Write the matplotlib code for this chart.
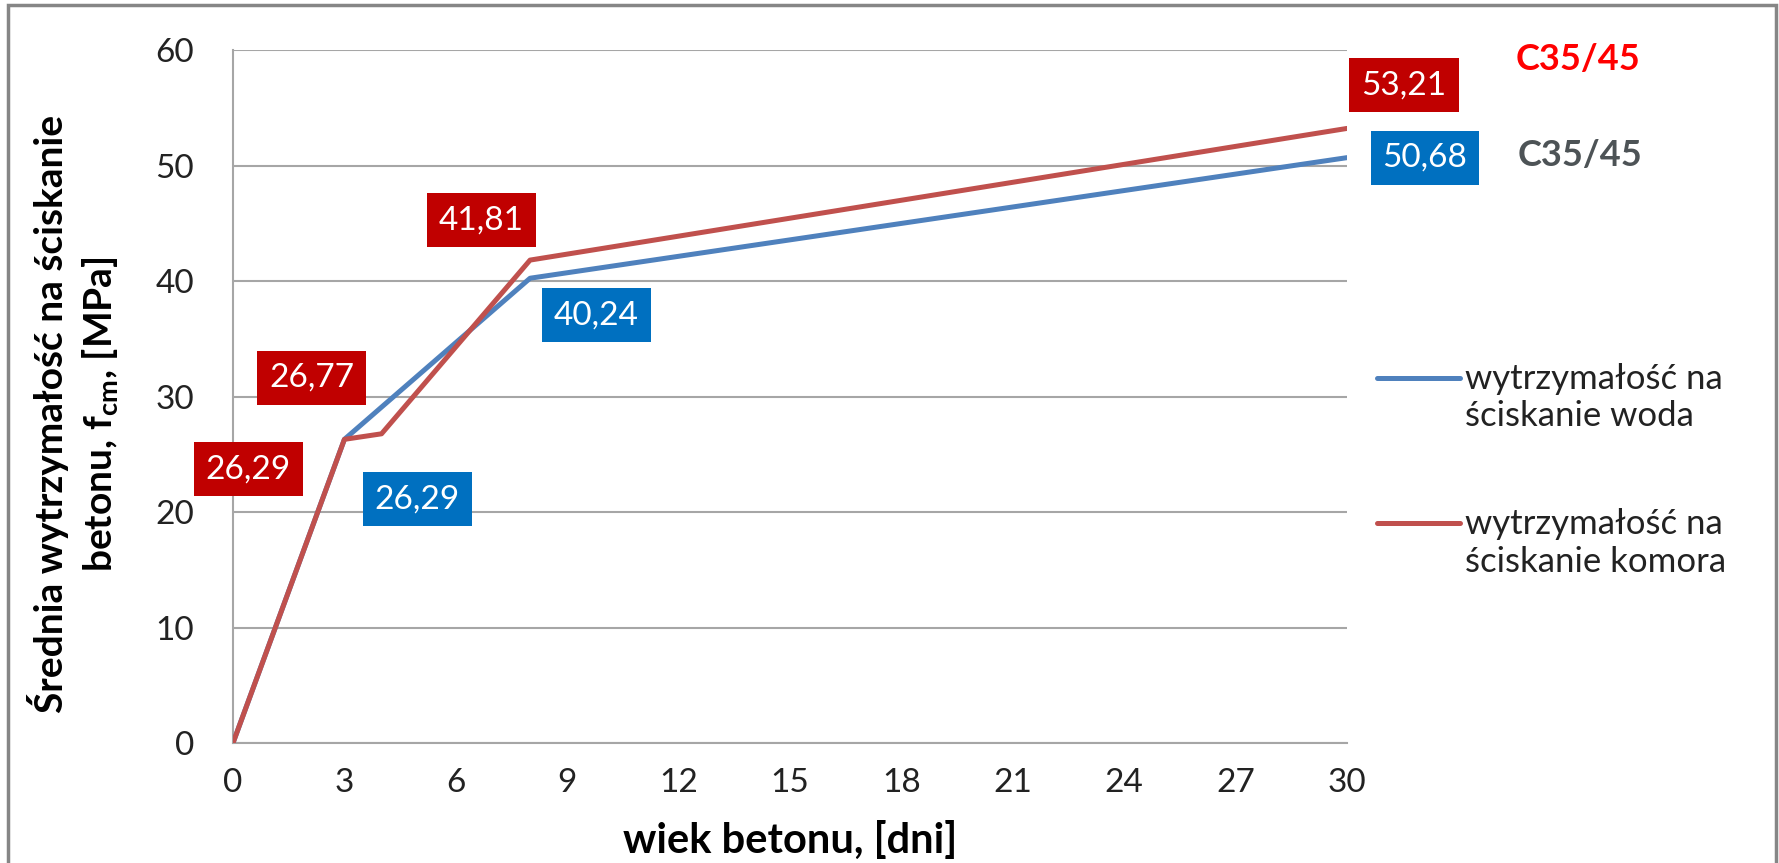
import numpy as np
import matplotlib
matplotlib.use('Agg')
import matplotlib.pyplot as plt
from matplotlib.patches import Rectangle
from matplotlib.legend_handler import HandlerLine2D

plt.rcParams['font.family'] = ['Lato', 'DejaVu Sans']

# wiek betonu [dni]
days_woda = [0, 3, 8, 30]
fcm_woda = [0, 26.29, 40.24, 50.68]
labels_woda = [None, '26,29', '40,24', '50,68']

days_komora = [0, 3, 4, 8, 30]
fcm_komora = [0, 26.29, 26.77, 41.81, 53.21]
labels_komora = [None, '26,29', '26,77', '41,81', '53,21']

x_ticks = [0, 3, 6, 9, 12, 15, 18, 21, 24, 27, 30]
y_ticks = [0, 10, 20, 30, 40, 50, 60]

name_woda = 'wytrzymałość na\nściskanie woda'
name_komora = 'wytrzymałość na\nściskanie komora'

col_woda = '#4F81BD'
col_komora = '#C0504D'
box_woda = '#0070C0'
box_komora = '#C00000'

# label offsets in pixels (dx right, dy up)
off_woda = [None, (73, -60), (66, -37), (78, 0)]
off_komora = [None, (-96, -30), (-70, 56), (-49, 40), (57, 43)]


class FirstLineHandler(HandlerLine2D):
    # legend line next to the first text line, not the middle of the entry
    def create_artists(self, legend, orig_handle, xdescent, ydescent, width, height, fontsize, trans):
        arts = super().create_artists(legend, orig_handle, xdescent, ydescent,
                                      width, height, fontsize, trans)
        for a in arts:
            a.set_ydata(np.asarray(a.get_ydata()) + 0.6 * fontsize)
        return arts


W, H = 1779, 863
fig = plt.figure(figsize=(W / 100, H / 100), dpi=100)
ax = fig.add_axes([233 / W, 1 - 743 / H, (1347 - 233) / W, (743 - 50) / H])

ln_w, = ax.plot(days_woda, fcm_woda, color=col_woda, lw=3.6,
                solid_joinstyle='round', solid_capstyle='round', label=name_woda, zorder=3)
ln_k, = ax.plot(days_komora, fcm_komora, color=col_komora, lw=3.6,
                solid_joinstyle='round', solid_capstyle='round', label=name_komora, zorder=4)

for xs, ys, labs, offs, fc in [(days_woda, fcm_woda, labels_woda, off_woda, box_woda),
                               (days_komora, fcm_komora, labels_komora, off_komora, box_komora)]:
    for x, y, lab, off in zip(xs, ys, labs, offs):
        if lab is None:
            continue
        ax.annotate(lab, (x, y), xytext=off, textcoords='offset pixels',
                    ha='center', va='center', color='white', fontsize=24,
                    bbox=dict(boxstyle='square,pad=0.36', fc=fc, ec='none'),
                    annotation_clip=False, zorder=5)

ax.set_xlim(0, 30)
ax.set_ylim(0, 60)
ax.set_xticks(x_ticks)
ax.set_yticks(y_ticks)
ax.tick_params(length=0, labelsize=24, colors='#222222')
ax.tick_params(axis='x', pad=18)
ax.tick_params(axis='y', pad=28)
ax.grid(axis='y', color='#A6A6A6', lw=1.5)
ax.set_axisbelow(True)
for s in ['top', 'right']:
    ax.spines[s].set_visible(False)
for s in ['left', 'bottom']:
    ax.spines[s].set_color('#A6A6A6')
    ax.spines[s].set_linewidth(1.5)

ax.set_xlabel('wiek betonu, [dni]', fontsize=30, fontweight='bold', va='top')
ax.xaxis.set_label_coords(0.5, (743 - 821) / 693)
ax.set_ylabel('Średnia wytrzymałość na ściskanie\nbetonu, f$_{\\mathregular{cm}}$, [MPa]',
              fontsize=28, fontweight='bold', linespacing=1.35)
ax.yaxis.set_label_coords((121 - 233) / 1114, (743 - 414) / 693)

leg = fig.legend(handles=[ln_w, ln_k], loc='upper left', bbox_to_anchor=(1363 / W, 1 - 349 / H),
                 frameon=False, fontsize=25, handlelength=2.4, handletextpad=0.15,
                 labelspacing=2.2, borderaxespad=0,
                 handler_map={ln_w: FirstLineHandler(), ln_k: FirstLineHandler()})
for t in leg.get_texts():
    t.set_linespacing(1.2)
    t.set_color('#222222')

fig.text(1578 / W, 1 - 60 / H, 'C35/45', color='#FF0000', fontsize=26, fontweight='bold',
         ha='center', va='center')
fig.text(1580 / W, 1 - 155 / H, 'C35/45', color='#4D5356', fontsize=26, fontweight='bold',
         ha='center', va='center')

fig.patches.append(Rectangle((8 / W, -0.02), (1776 - 8) / W, 1.02 - 5 / H,
                             transform=fig.transFigure, fill=False, ec='#868686', lw=2.5))

fig.savefig('out.png', dpi=100)
